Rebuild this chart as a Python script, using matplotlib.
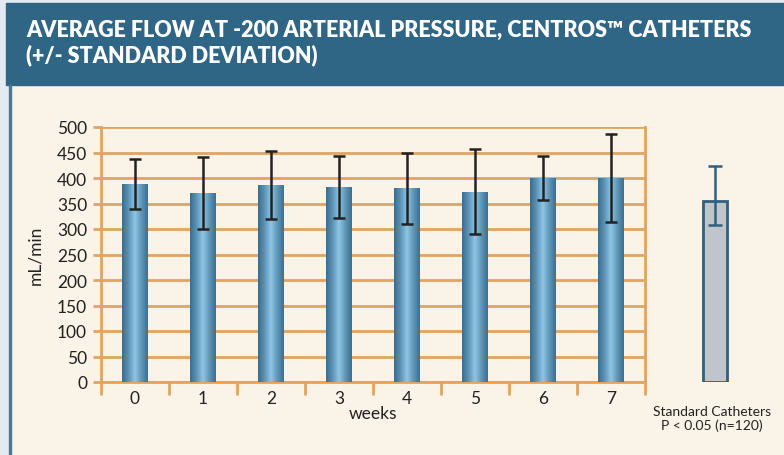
import numpy as np
import matplotlib as mpl
mpl.use('Agg')
from matplotlib import pyplot as plt
from matplotlib.patches import Rectangle
from matplotlib.colors import LinearSegmentedColormap

weeks = ['0', '1', '2', '3', '4', '5', '6', '7']
flow_mean = [388, 371, 386, 382, 380, 373, 400, 400]
flow_sd = [49, 71, 67, 61, 70, 83, 43, 86]

std_label = 'Standard Catheters\nP < 0.05 (n=120)'
std_mean = 355
std_err_low = 48
std_err_high = 68

title = 'AVERAGE FLOW AT -200 ARTERIAL PRESSURE, CENTROS\u2122 CATHETERS\n(+/- STANDARD DEVIATION)'

orange = '#e2a463'
cream = '#faf3e7'
band = '#2f6585'
W, H = 784, 456

plt.rcParams['font.family'] = ['Lato', 'DejaVu Sans']

fig = plt.figure(figsize=(W / 100, H / 100), dpi=100, facecolor='#e3eaf1')

# page decoration
fig.patches.append(Rectangle((11 / W, 0), 1, 1 - 86 / H, transform=fig.transFigure,
                             color=cream, zorder=-10))
fig.patches.append(Rectangle((6 / W, 1 - 86 / H), 1, 82 / H, transform=fig.transFigure,
                             color=band, zorder=-10))
fig.patches.append(Rectangle((9 / W, 0), 1.5 / W, 1 - 86 / H, transform=fig.transFigure,
                             color='#4a7898', zorder=-10))
fig.text(26 / W, 1 - 43 / H, title, color='white', fontsize=15.5, fontweight='heavy',
         va='center', ha='left', linespacing=1.2)

ax = fig.add_axes([101 / W, 1 - 383 / H, 544 / W, 255 / H])
ax.set_facecolor('none')
x = np.arange(len(weeks))
bars = ax.bar(x, flow_mean, width=0.38, color='none', zorder=3)

cmap = LinearSegmentedColormap.from_list('bar', ['#3a6c8c', '#5c94b6', '#8fc4e4', '#5f95b5', '#3d7090'])
grad = np.linspace(0, 1, 256).reshape(1, -1)
for b in bars:
    im = ax.imshow(grad, cmap=cmap, aspect='auto', zorder=3,
                   extent=[b.get_x(), b.get_x() + b.get_width(), 0, b.get_height()])
    im.set_clip_path(b)

ax.errorbar(x, flow_mean, yerr=flow_sd, fmt='none', ecolor='#222222', elinewidth=1.8,
            capsize=4, capthick=1.8, zorder=4)

ax.set_xlim(-0.5, len(weeks) - 0.5)
ax.set_ylim(0, 500)
ax.set_yticks(np.arange(0, 501, 50))
ax.yaxis.grid(True, color=orange, linewidth=2, zorder=1)
ax.set_axisbelow(True)
ax.set_xticks(x)
ax.set_xticklabels(weeks)
ax.set_xticks(np.arange(-0.5, len(weeks), 1), minor=True)
ax.tick_params(axis='x', which='major', length=0, pad=6, labelsize=12.5, labelcolor='#222222')
ax.tick_params(axis='x', which='minor', length=9, width=2, color=orange)
ax.tick_params(axis='y', length=6, width=2, color=orange, labelsize=12.5, labelcolor='#222222', pad=4)
for s in ['left', 'right', 'bottom']:
    ax.spines[s].set_color(orange)
    ax.spines[s].set_linewidth(2)
ax.spines['top'].set_visible(False)
ax.set_xlabel('weeks', fontsize=12.5, color='#222222', labelpad=-1)
ax.set_ylabel('mL/min', fontsize=12.5, color='#222222', labelpad=10)

# standard catheters reference bar
ax2 = fig.add_axes([680 / W, 1 - 383 / H, 70 / W, 255 / H])
ax2.set_facecolor('none')
ax2.set_xlim(0, 1)
ax2.set_ylim(0, 500)
ax2.axis('off')
ax2.bar([0.5], [std_mean], width=0.33, color='#bfc5cb', edgecolor='#2e6080', linewidth=2)
ax2.errorbar([0.5], [std_mean], yerr=[[std_err_low], [std_err_high]], fmt='none',
             ecolor='#2e6080', elinewidth=1.8, capsize=5, capthick=1.8)
fig.text(712 / W, 1 - 419 / H, std_label, ha='center', va='center', fontsize=10,
         color='#222222', linespacing=1.2)

fig.savefig('out.png', dpi=100, facecolor=fig.get_facecolor())
